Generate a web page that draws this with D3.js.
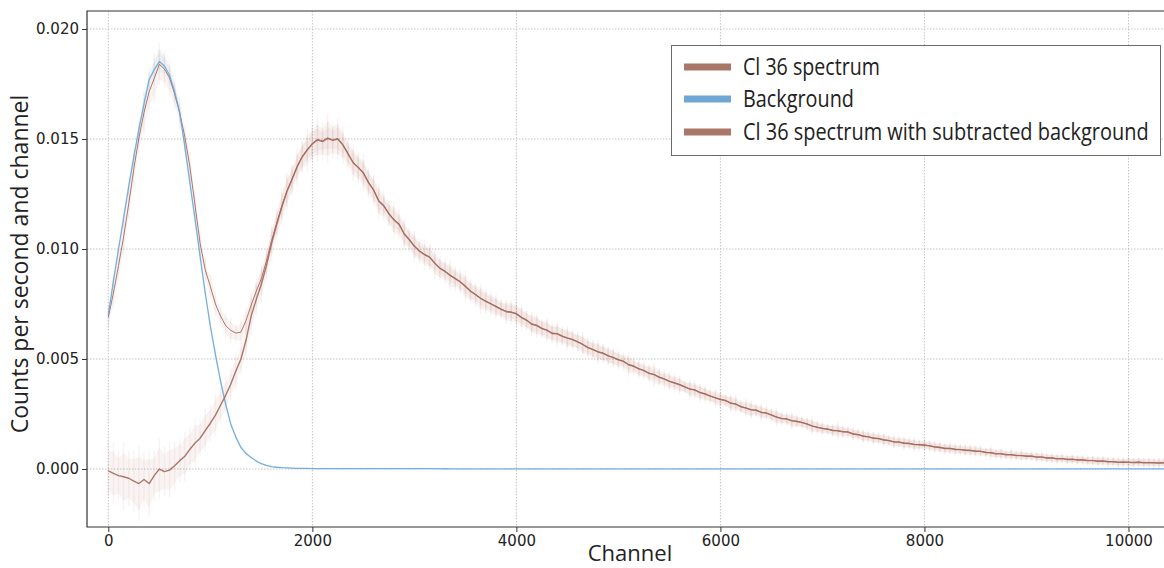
<!DOCTYPE html>
<html>
<head>
<meta charset="utf-8">
<script src="https://cdn.jsdelivr.net/npm/d3@7"></script>
<style>
  body { margin: 0; background: #fff; }
  text { fill: #222; }
</style>
</head>
<body>
<svg id="chart" width="1164" height="568"></svg>
<script>
// Channel bins (every 50 channels, 0 … 10350)
const channels = d3.range(0, 10351, 50);

// Raw Cl-36 spectrum, counts per second and channel
const spectrum = [
  .00690,.00800,.00925,.01055,.01205,.01365,.01505,.01620,.01715,.01775,
  .01840,.01818,.01778,.01705,.01618,.01510,.01372,.01200,.01025,.00905,
  .00830,.00750,.00695,.00652,.00630,.00618,.00622,.00675,.00745,.00808,
  .00865,.00945,.01038,.01118,.01195,.01263,.01318,.01375,.01420,.01452,
  .01480,.01498,.01491,.01505,.01496,.01502,.01474,.01434,.01394,.01372,
  .01347,.01304,.01270,.01220,.01198,.01162,.01134,.01114,.01070,.01044,
  .01014,.00992,.00976,.00964,.00937,.00914,.00900,.00882,.00867,.00852,
  .00832,.00810,.00794,.00777,.00764,.00752,.00740,.00728,.00717,.00714,
  .00707,.00690,.00678,.00660,.00654,.00640,.00632,.00618,.00616,.00605,
  .00596,.00589,.00579,.00567,.00553,.00544,.00533,.00527,.00515,.00507,
  .00497,.00490,.00475,.00468,.00456,.00448,.00436,.00430,.00418,.00410,
  .00399,.00392,.00384,.00374,.00364,.00360,.00348,.00342,.00332,.00324,
  .00317,.00312,.00300,.00296,.00284,.00278,.00270,.00268,.00258,.00255,
  .00246,.00237,.00230,.00228,.00220,.00217,.00212,.00205,.00196,.00190,
  .00185,.00182,.00176,.00175,.00170,.00169,.00160,.00157,.00150,.00147,
  .00141,.00139,.00133,.00130,.00124,.00123,.00118,.00117,.00112,.00111,
  .00109,.00106,.00101,.00099,.00094,.00094,.00090,.00089,.00086,.00085,
  .00082,.00081,.00076,.00075,.00070,.00070,.00066,.00066,.00062,.00062,
  .00059,.00059,.00055,.00055,.00051,.00051,.00047,.00048,.00044,.00045,
  .00042,.00042,.00039,.00039,.00036,.00037,.00034,.00034,.00031,.00032,
  .00031,.00030,.00032,.00029,.00030,.00029,.00028,.00029
];

// Background measurement
const background = [
  .00700,.00855,.01000,.01140,.01285,.01420,.01545,.01660,.01770,.01815,
  .01852,.01832,.01790,.01715,.01620,.01465,.01300,.01135,.00965,.00800,
  .00650,.00520,.00400,.00295,.00205,.00145,.00098,.00070,.00052,.00036,
  .00024,.00016,.00011,.00008,.00006,.00005,.00004,.00003,.00003,.00003,
  .00002,.00002,.00002,.00002,.00002,.00002,.00002,.00002,.00002,.00002,
  .00002,.00002,.00002,.00002,.00002,.00002,.00002,.00002,.00002,.00002,
  .00002,.00002,.00002,.00002,.00002,.00001,.00002,.00001,.00001,.00001,
  .00001,.00001,.00001,.00001,.00001,.00001,.00001,.00001,.00001,.00001,
  .00001,.00001,.00001,.00001,.00001,.00001,.00001,.00001,.00001,.00001,
  .00001,.00001,.00001,.00001,.00001,.00001,.00001,.00001,.00001,.00001,
  .00001,.00001,.00001,.00001,.00001,.00001,.00001,.00001,.00001,.00001,
  .00001,.00001,.00001,.00001,.00001,.00001,.00001,.00001,.00001,.00001,
  .00001,.00001,.00001,.00001,.00001,.00001,.00001,.00001,.00001,.00001,
  .00001,.00001,.00001,.00001,.00001,.00001,.00001,.00001,.00001,.00001,
  .00001,.00001,.00001,.00001,.00001,.00001,.00001,.00001,.00001,.00001,
  .00001,.00001,.00001,.00001,.00001,.00001,.00001,.00001,.00001,.00001,
  .00001,.00001,.00001,.00001,.00001,.00001,.00001,.00001,.00001,.00001,
  .00001,.00001,.00001,.00001,.00001,.00001,.00001,.00001,.00001,.00001,
  .00001,.00001,.00001,.00001,.00001,.00001,.00001,.00001,.00001,.00001,
  .00001,.00001,.00001,.00001,.00001,.00001,.00001,.00001,.00001,.00001,
  .00001,.00001,.00001,.00001,.00001,.00001,.00001,.00001
];

// Spectrum with the background subtracted
const subtracted = [
  -.00008,-.00020,-.00030,-.00035,-.00042,-.00055,-.00066,-.00048,-.00066,-.00030,
  .00000,-.00012,-.00005,.00015,.00038,.00058,.00090,.00118,.00140,.00175,
  .00208,.00245,.00290,.00335,.00385,.00445,.00500,.00585,.00695,.00770,
  .00840,.00925,.01025,.01110,.01190,.01260,.01315,.01372,.01418,.01450,
  .01478,.01496,.01488,.01503,.01494,.01500,.01472,.01432,.01392,.01370,
  .01345,.01302,.01268,.01218,.01196,.01160,.01132,.01112,.01068,.01042,
  .01012,.00990,.00974,.00962,.00935,.00912,.00898,.00880,.00865,.00850,
  .00830,.00808,.00792,.00775,.00762,.00750,.00738,.00726,.00715,.00712,
  .00705,.00688,.00676,.00658,.00652,.00638,.00630,.00616,.00614,.00603,
  .00595,.00588,.00578,.00566,.00552,.00543,.00532,.00526,.00514,.00506,
  .00496,.00489,.00474,.00467,.00455,.00447,.00435,.00429,.00417,.00409,
  .00398,.00391,.00383,.00373,.00363,.00359,.00347,.00341,.00331,.00323,
  .00316,.00311,.00299,.00295,.00283,.00277,.00269,.00267,.00257,.00254,
  .00245,.00236,.00229,.00227,.00219,.00216,.00211,.00204,.00195,.00189,
  .00184,.00181,.00175,.00174,.00169,.00168,.00159,.00156,.00149,.00146,
  .00140,.00138,.00132,.00129,.00123,.00122,.00117,.00116,.00111,.00110,
  .00108,.00105,.00100,.00098,.00093,.00093,.00089,.00088,.00085,.00084,
  .00081,.00080,.00075,.00074,.00069,.00069,.00065,.00065,.00061,.00061,
  .00058,.00058,.00054,.00054,.00050,.00050,.00046,.00047,.00043,.00044,
  .00041,.00041,.00038,.00038,.00035,.00036,.00033,.00033,.00030,.00031,
  .00030,.00029,.00031,.00028,.00029,.00028,.00027,.00028
];

// Statistical uncertainties (half-widths of the error bars)
const spectrumErr = [
  .0004,.0005,.0005,.0006,.0005,.0006,.0005,.0007,.0006,.0008,
  .0007,.0006,.0006,.0005,.0005,.0004,.0005,.0004,.0004,.0004,
  .0004,.0004,.0003,.0004,.0004,.0003,.0004,.0004,.0004,.0004,
  .0004,.0004,.0004,.0004,.0004,.0005,.0004,.0004,.0005,.0004,
  .0005,.0005,.0004,.0005,.0004,.0005,.0004,.0004,.0004,.0004,
  .0004,.0004,.0004,.0004,.0003,.0004,.0004,.0003,.0004,.0003,
  .0004,.0003,.0003,.0004,.0003,.0003,.0003,.0003,.0003,.0003,
  .0003,.0003,.0003,.0003,.0003,.0003,.0003,.0003,.0003,.0003,
  .0003,.0003,.0003,.0003,.0003,.0003,.0003,.0003,.0003,.0003,
  .0003,.0003,.0003,.0003,.0003,.0003,.0003,.0003,.0003,.0003,
  .00025,.0002,.00025,.0002,.00025,.0002,.00025,.0002,.00025,.0002,
  .00025,.0002,.00025,.0002,.00025,.0002,.00025,.0002,.00025,.0002,
  .0002,.0002,.00025,.0002,.0002,.0002,.00025,.0002,.0002,.0002,
  .0002,.0002,.0002,.0002,.0002,.0002,.0002,.0002,.0002,.0002,
  .0002,.00015,.0002,.00015,.0002,.00015,.0002,.00015,.0002,.00015,
  .0002,.00015,.0002,.00015,.0002,.00015,.0002,.00015,.0002,.00015,
  .00015,.00015,.00015,.00015,.00015,.00015,.00015,.00015,.00015,.00015,
  .00015,.00015,.00015,.00015,.00015,.00015,.00015,.00015,.00015,.00015,
  .00015,.00015,.00015,.00015,.00015,.00015,.00015,.00015,.00015,.00015,
  .00015,.00015,.00015,.00015,.00015,.00015,.00015,.00015,.00015,.00015,
  .00015,.00015,.00015,.00015,.00015,.00015,.00015,.00015
];

const backgroundErr = [
  .0002,.0002,.0002,.0003,.0003,.0003,.0003,.0004,.0004,.0004,
  .0004,.0004,.0003,.0003,.0003,.0003,.0003,.0002,.0002,.0002,
  .0002,.0002,.0001,.0001,.0001,.0001,.0001,.0001,.00005,.00005,
  .00005,.00004,.00003,.00003,.00002,.00002,.00002,.00002,.00002,.00002
];

const subtractedErr = [
  .0009,.0010,.0008,.0011,.0009,.0010,.0012,.0009,.0011,.0008,
  .0010,.0008,.0009,.0008,.0007,.0008,.0007,.0008,.0006,.0007,
  .0006,.0007,.0006,.0006,.0005,.0006,.0005,.0006,.0006,.0005,
  .0006,.0005,.0006,.0005,.0006,.0006,.0005,.0006,.0005,.0007,
  .0006,.0007,.0006,.0008,.0006,.0007,.0006,.0005,.0006,.0005,
  .0006,.0005,.0005,.0006,.0005,.0004,.0006,.0005,.0005,.0004,
  .0005,.0004,.0005,.0004,.0005,.0004,.0004,.0005,.0004,.0004,
  .0005,.0004,.0004,.0005,.0004,.0004,.0004,.0003,.0004,.0004,
  .0004,.0004,.0003,.0004,.0004,.0003,.0004,.0003,.0004,.0003,
  .0004,.0003,.0003,.0004,.0003,.0003,.0004,.0003,.0003,.0003,
  .0003,.0003,.0004,.0003,.0003,.0003,.0003,.0004,.0003,.0003,
  .0003,.0003,.0003,.0002,.0003,.0003,.0003,.0003,.0002,.0003,
  .0003,.0002,.0003,.0003,.0002,.0003,.0003,.0002,.0003,.0002,
  .0002,.0003,.0002,.0002,.0003,.0002,.0002,.0002,.0003,.0002,
  .0002,.0002,.0002,.0003,.0002,.0002,.0002,.0002,.0002,.0002,
  .0002,.0002,.0002,.0002,.0002,.0002,.0002,.0002,.0002,.0002,
  .0002,.0002,.0002,.0002,.0002,.0002,.0002,.0002,.0002,.0002,
  .0002,.0002,.00015,.0002,.00015,.0002,.00015,.0002,.00015,.0002,
  .00015,.00015,.00015,.00015,.00015,.00015,.00015,.00015,.00015,.00015,
  .00015,.00015,.00015,.00015,.00015,.00015,.00015,.00015,.00015,.00015,
  .00015,.00015,.00015,.00015,.00015,.00015,.00015,.00015
];

const xTicks = [0, 2000, 4000, 6000, 8000, 10000];
const yTicks = [0, 0.005, 0.010, 0.015, 0.020];
const seriesNames = ["Cl 36 spectrum", "Background", "Cl 36 spectrum with subtracted background"];

// ---- styling ----
const BROWN = "#a5685b";
const BLUE = "#6aa6d8";
const legendColors = ["#a97767", "#6fa7d4", "#a97767"];

const svg = d3.select("#chart");
const plot = { left: 87, right: 1165, top: 11, bottom: 527 };

const x = d3.scaleLinear().domain([-209, 10358]).range([plot.left, plot.right]);
const y = d3.scaleLinear().domain([-0.002636, 0.020818]).range([plot.bottom, plot.top]);

svg.append("defs").append("clipPath").attr("id", "plotClip")
  .append("rect")
  .attr("x", plot.left).attr("y", plot.top)
  .attr("width", plot.right - plot.left).attr("height", plot.bottom - plot.top);

// grid
const grid = svg.append("g").attr("class", "grid");
grid.selectAll("line.v").data(xTicks).join("line")
  .attr("x1", d => x(d)).attr("x2", d => x(d))
  .attr("y1", plot.top).attr("y2", plot.bottom)
  .attr("stroke", "#b5b5b5").attr("stroke-width", 0.8).attr("stroke-dasharray", "1.5,1.5");
grid.selectAll("line.h").data(yTicks).join("line")
  .attr("x1", plot.left).attr("x2", plot.right)
  .attr("y1", d => y(d)).attr("y2", d => y(d))
  .attr("stroke", "#b5b5b5").attr("stroke-width", 0.8).attr("stroke-dasharray", "1.5,1.5");

const series = [
  { values: spectrum, err: spectrumErr, color: BROWN, width: 1.0 },
  { values: background, err: backgroundErr, color: BLUE, width: 1.3 },
  { values: subtracted, err: subtractedErr, color: BROWN, width: 1.4 }
].map(s => ({
  ...s,
  points: channels.map((c, i) => ({ c, v: s.values[i], e: i < s.err.length ? s.err[i] : null }))
}));

const marks = svg.append("g").attr("clip-path", "url(#plotClip)");

// uncertainty bands (light haze)
const band = d3.area()
  .defined(d => d.e !== null)
  .x(d => x(d.c))
  .y0(d => y(d.v - d.e))
  .y1(d => y(d.v + d.e));

series.forEach(s => {
  marks.append("path")
    .datum(s.points)
    .attr("d", band)
    .attr("fill", s.color)
    .attr("fill-opacity", 0.07)
    .attr("stroke", "none");
});

// error-bar streaks
series.forEach(s => {
  marks.append("g").selectAll("line")
    .data(s.points.filter(p => p.e !== null))
    .join("line")
    .attr("x1", d => x(d.c)).attr("x2", d => x(d.c))
    .attr("y1", d => y(d.v - d.e * 1.4)).attr("y2", d => y(d.v + d.e * 1.4))
    .attr("stroke", s.color)
    .attr("stroke-opacity", 0.07)
    .attr("stroke-width", 1.5);
});

// data lines
const line = d3.line().x(d => x(d.c)).y(d => y(d.v));
series.forEach(s => {
  marks.append("path")
    .datum(s.points)
    .attr("d", line)
    .attr("fill", "none")
    .attr("stroke", s.color)
    .attr("stroke-width", s.width)
    .attr("stroke-opacity", 0.9)
    .attr("stroke-linejoin", "round");
});

// axes
const xAxis = svg.append("g")
  .attr("transform", `translate(0,${plot.bottom})`)
  .call(d3.axisBottom(x).tickValues(xTicks).tickFormat(d3.format("d")).tickSize(5).tickSizeOuter(0).tickPadding(3));
const yAxis = svg.append("g")
  .attr("transform", `translate(${plot.left},0)`)
  .call(d3.axisLeft(y).tickValues(yTicks).tickFormat(d3.format(".3f")).tickSize(5).tickSizeOuter(0).tickPadding(3));

[xAxis, yAxis].forEach(a => {
  a.select(".domain").remove();
  a.selectAll(".tick line").attr("stroke", "#333").attr("stroke-width", 1);
  a.selectAll(".tick text")
    .attr("font-family", "DejaVu Sans, sans-serif")
    .attr("font-size", 15)
    .attr("fill", "#222");
});

// spines
svg.append("path")
  .attr("d", `M${plot.right},${plot.top}H${plot.left}V${plot.bottom}H${plot.right}`)
  .attr("fill", "none")
  .attr("stroke", "#333")
  .attr("stroke-width", 1.2);

// axis titles
svg.append("text")
  .attr("x", 630).attr("y", 561)
  .attr("text-anchor", "middle")
  .attr("font-family", "Open Sans, sans-serif")
  .attr("font-size", 22)
  .text("Channel");

svg.append("text")
  .attr("transform", "translate(28,264) rotate(-90)")
  .attr("text-anchor", "middle")
  .attr("font-family", "Open Sans, sans-serif")
  .attr("font-size", 23)
  .text("Counts per second and channel");

// legend
const legend = svg.append("g");
legend.append("rect")
  .attr("x", 671.5).attr("y", 45.5)
  .attr("width", 489).attr("height", 110)
  .attr("fill", "#fff")
  .attr("stroke", "#6a6a6a")
  .attr("stroke-width", 1);

const legendRowY = [67, 99, 132];
const legendTextWidth = [137, 111, 406];
seriesNames.forEach((name, i) => {
  legend.append("line")
    .attr("x1", 684).attr("x2", 731)
    .attr("y1", legendRowY[i]).attr("y2", legendRowY[i])
    .attr("stroke", legendColors[i])
    .attr("stroke-width", 7);
  // condensed label: squeeze the text horizontally to its column width
  const g = legend.append("g");
  const t = g.append("text")
    .attr("x", 0).attr("y", 0)
    .attr("font-family", "Open Sans, sans-serif")
    .attr("font-size", 24)
    .text(name);
  const natural = t.node().getComputedTextLength();
  g.attr("transform", `translate(743,${legendRowY[i] + 7.5}) scale(${legendTextWidth[i] / natural},1)`);
});
</script>
</body>
</html>
